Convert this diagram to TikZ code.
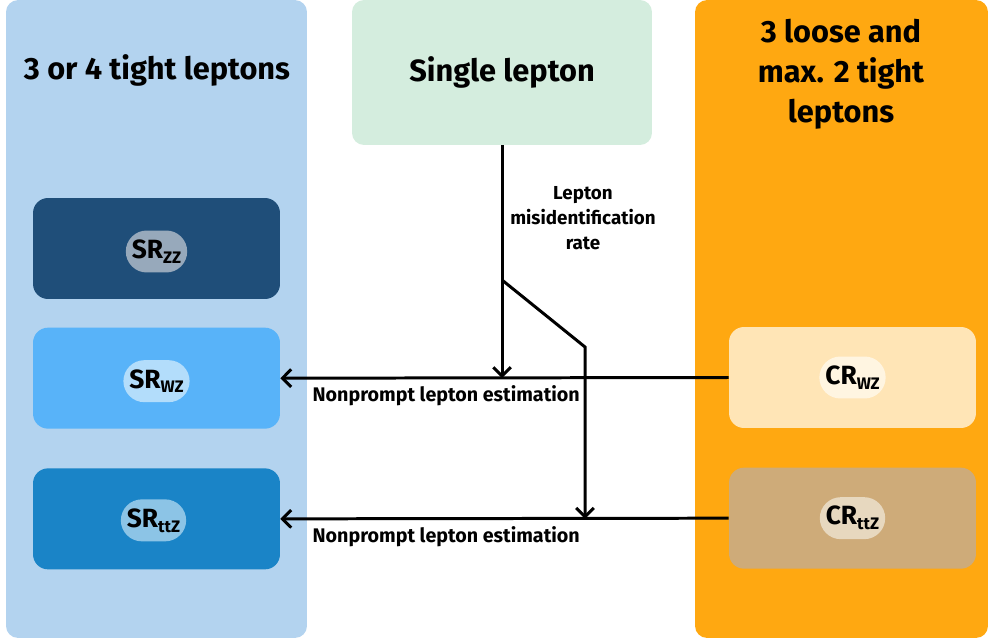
\documentclass[tikz,border=0pt]{standalone}
\usepackage{fontspec}
\setmainfont{Fira Sans}
\usepackage{xcolor}
\usetikzlibrary{arrows.meta}
\usetikzlibrary{positioning}
\definecolor{sigblue}{HTML}{B3D3EF}
\definecolor{singlegreen}{HTML}{D4EDDE}
\definecolor{ctrlorange}{HTML}{FFA811}
\definecolor{srzzcol}{HTML}{1F4E79}
\definecolor{srzzpill}{HTML}{97A9BB}
\definecolor{srwzcol}{HTML}{58B3F9}
\definecolor{srwzpill}{HTML}{B3DDFB}
\definecolor{srttzcol}{HTML}{1A84C7}
\definecolor{srttzpill}{HTML}{8CC4E6}
\definecolor{crwzcol}{HTML}{FFE5B6}
\definecolor{crwzpill}{HTML}{FFF5E1}
\definecolor{crttzcol}{HTML}{CEAB79}
\definecolor{crttzpill}{HTML}{E7D8BF}
\tikzstyle{arrow} = [line width=1.7pt,-{Straight Barb[length=5pt,width=10pt]}]
\tikzstyle{panel} = [rounded corners=0.24cm,inner sep=0pt]
\tikzstyle{regbox} = [rounded corners=0.3cm,minimum width=4.94cm,minimum height=2.02cm,inner sep=0pt]
\tikzstyle{pill} = [rounded corners=0.42cm,minimum height=0.84cm,inner xsep=0.12cm,inner ysep=0pt,font=\fontsize{15}{17}\selectfont\bfseries]
\tikzstyle{title} = [align=center,font=\fontsize{17.5}{22.8}\selectfont\bfseries]
\tikzstyle{lbl} = [inner sep=0pt,font=\fontsize{11.2}{14.2}\selectfont\bfseries]
\newcommand{\regname}[2]{#1\raisebox{-0.35ex}{\fontsize{9.5}{9.5}\selectfont #2}}

\begin{document}
\begin{tikzpicture}[x=0.02cm,y=-0.02cm]
  \useasboundingbox (0,0) rectangle (990,642);
  % the three groups
  \node[panel,fill=sigblue,minimum width=6.02cm,minimum height=12.76cm] (sig) at (156.5,319) {};
  \node[panel,title,fill=singlegreen,minimum width=6cm,minimum height=2.9cm] (single) at (502,72.5) {Single lepton};
  \node[panel,fill=ctrlorange,minimum width=5.86cm,minimum height=12.76cm] (ctrl) at (841.5,319) {};
  \node[title] (sigtitle) at (157,70) {3 or 4 tight leptons};
  \node[title] (ctrltitle) at (841,74) {3 loose and\\max. 2 tight\\leptons};
  % signal regions
  \node[regbox,fill=srzzcol] (srzz) at (156.5,248.5) {};
  \node[regbox,fill=srwzcol,below=0.56cm of srzz] (srwz) {};
  \node[regbox,fill=srttzcol,below=0.78cm of srwz] (srttz) {};
  \node[pill,fill=srzzpill] (srzzname) at ([yshift=-0.06cm]srzz.center) {\regname{SR}{ZZ}};
  \node[pill,fill=srwzpill] (srwzname) at ([yshift=-0.06cm]srwz.center) {\regname{SR}{WZ}};
  \node[pill,fill=srttzpill] (srttzname) at ([xshift=-0.06cm,yshift=-0.03cm]srttz.center) {\regname{SR}{ttZ}};
  % control regions
  \node[regbox,fill=crwzcol] (crwz) at (852.5,377.5) {};
  \node[regbox,fill=crttzcol,below=0.78cm of crwz] (crttz) {};
  \node[pill,fill=crwzpill] (crwzname) at (crwz) {\regname{CR}{WZ}};
  \node[pill,fill=crttzpill] (crttzname) at (crttz) {\regname{CR}{ttZ}};
  % estimation
  \draw[arrow] (crwz.west) -- (srwz.east);
  \draw[arrow] (crttz.west) -- (srttz.east);
  \node[lbl,below right=0.14cm and 0.64cm of srwz.east] (nonpromptwz) {Nonprompt lepton estimation};
  \node[lbl,below right=0.14cm and 0.64cm of srttz.east] (nonpromptttz) {Nonprompt lepton estimation};
  \draw[arrow] (single.south) -- (single.south |- srwz.east);
  \coordinate (split) at (502,280);
  \coordinate (kink) at (585,347);
  \draw[arrow] (split) -- (kink) -- (kink |- srttz.east);
  \node[lbl,align=center,font=\fontsize{10.7}{14.2}\selectfont\bfseries] (misid) at (583,218) {Lepton\\misidentification\\rate};
\end{tikzpicture}
\end{document}
